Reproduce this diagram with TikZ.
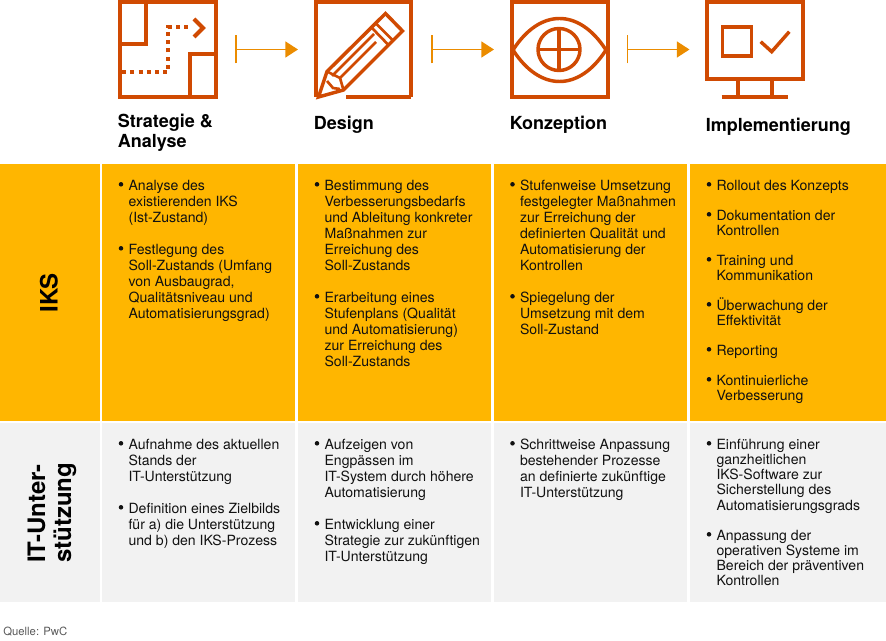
\documentclass[tikz,border=0pt]{standalone}
\usepackage{fontspec}
\setmainfont{TeX Gyre Heros}
\usetikzlibrary{arrows.meta}
\definecolor{pwcyellow}{HTML}{FFB600}
\definecolor{pwcgrey}{HTML}{F2F2F2}
\definecolor{pwcrust}{HTML}{D04A02}
\definecolor{pwcorange}{HTML}{EB8C00}
\definecolor{inkblack}{HTML}{111111}
\tikzset{
  x=0.75pt,y=-0.75pt,
  icon/.style={draw=pwcrust,line width=3pt,miter limit=8},
  iconthin/.style={draw=pwcrust,line width=2.6pt,line join=miter},
  flow/.style={color=pwcorange,line width=1.2pt,{Bar[width=21pt]}-{Triangle[length=9.5pt,width=12pt,fill=pwcorange]}},
  head/.style={font=\fontsize{13.5}{15}\bfseries\selectfont,text=black,anchor=base west,inner sep=0pt,align=left},
  side/.style={font=\bfseries,text=black,inner sep=0pt,rotate=90,align=left},
  body/.style={font=\fontsize{10.55}{12}\selectfont,text=inkblack,anchor=north west,inner sep=0pt,align=left},
  tight/.style={font=\fontsize{10.55}{11.4}\selectfont},
  bul/.style={circle,fill=inkblack,inner sep=0pt,minimum size=3.4pt},
}
\newcommand{\bl}[5][]{%
  \node[bul] (#2b) at (#3-8,#4-0.7) {};
  \node[body,#1] (#2) at (#3-0.7,#4-5.7) {\strut #5};}
\begin{document}
\begin{tikzpicture}
\useasboundingbox (0,0) rectangle (886,641);
% table cells
\fill[pwcyellow] (0,164) rectangle (99.5,421);
\fill[pwcyellow] (102,164) rectangle (295,421);
\fill[pwcyellow] (298,164) rectangle (491,421);
\fill[pwcyellow] (494,164) rectangle (687,421);
\fill[pwcyellow] (690,164) rectangle (886,421);
\fill[pwcgrey] (0,423) rectangle (99.5,602);
\fill[pwcgrey] (102,423) rectangle (295,602);
\fill[pwcgrey] (298,423) rectangle (491,602);
\fill[pwcgrey] (494,423) rectangle (687,602);
\fill[pwcgrey] (690,423) rectangle (886,602);
% icon 1: route
\draw[icon] (119.5,2) rectangle (215.5,97.5);
\draw[icon] (119.5,44.5) -- (146,44.5) -- (146,2);
\draw[icon] (190,97.5) -- (190,54.5) -- (215.5,54.5);
\draw[icon,dash pattern=on 3pt off 3.2pt] (122,72.5) -- (168,72.5) -- (168,27.5) -- (192,27.5);
\draw[icon] (194,19) -- (203,28) -- (194,37);
% icon 2: pencil
\draw[icon] (346,97.5) -- (411,97.5) (411,97.5) -- (411,2) -- (315.5,2) -- (315.5,97.5);
\draw[iconthin] (318.5,97) -- (327,71.5) -- (385.5,13.5) -- (402.5,31) -- (343.5,90) -- cycle;
\draw[iconthin,line width=2pt] (327,71.5) -- (340,78) -- (343.5,90);
\draw[iconthin,line width=2pt] (340,78) -- (376,42);
\draw[iconthin,line width=2pt] (332,76) -- (374,34);
\draw[iconthin,line width=2pt] (372,28) -- (388,44.5);
\draw[iconthin,line width=2pt] (376.5,24) -- (392.5,40);
\draw[iconthin,line width=2pt] (327,81) -- (333,88) -- (340,89);
% icon 3: eye
\draw[icon] (512,2) rectangle (607.5,97.5);
\draw[iconthin] (513,50) .. controls (540,8) and (579,8) .. (606,50) .. controls (579,92) and (540,92) .. (513,50) -- cycle;
\draw[iconthin] (559,49.5) circle (21);
\draw[iconthin] (538,49.5) -- (580,49.5) (559,28.5) -- (559,70.5);
% icon 4: monitor
\draw[icon] (707,2) rectangle (803,79.5);
\draw[icon] (738.3,81) -- (738.3,97) (771.7,81) -- (771.7,97);
\draw[icon] (721.7,97.3) -- (787.7,97.3);
\draw[iconthin,line width=2.8pt] (722.5,27) rectangle (751.5,56);
\draw[iconthin] (760.7,41.7) -- (771.7,51.7) -- (789.3,31.7);
% flow arrows
\coordinate (f1a) at (235,49.5); \coordinate (f1b) at (298,49.5);
\coordinate (f2a) at (431,49.5); \coordinate (f2b) at (494,49.5);
\coordinate (f3a) at (626.7,49.5); \coordinate (f3b) at (689.5,49.5);
\draw[flow] (f1a) -- (f1b);
\draw[flow] (f2a) -- (f2b);
\draw[flow] (f3a) -- (f3b);
% headings
\node[head,font=\fontsize{13.5}{15}\bfseries\selectfont] (h1) at (117.5,148) {Strategie \&\\[0.2pt]Analyse};
\node[head] (h2) at (313.5,130) {Design};
\node[head] (h3) at (509.5,130) {Konzeption};
\node[head] (h4) at (705.5,132) {Implementierung};
% side labels
\node[side,font=\fontsize{18}{22}\bfseries\selectfont] (iks) at (49,293) {IKS};
\node[side,font=\fontsize{18}{19.5}\bfseries\selectfont,anchor=west] (itu) at (52,563) {IT-Unter-\\stützung};
% IKS row
\bl{a1}{129}{185}{Analyse des\\existierenden IKS\\(Ist-Zustand)}
\bl{a2}{129}{249}{Festlegung des\\Soll-Zustands (Umfang\\von Ausbaugrad,\\Qualitätsniveau und\\Automatisierungsgrad)}
\bl{b1}{325}{185}{Bestimmung des\\Verbesserungsbedarfs\\und Ableitung konkreter\\Maßnahmen zur\\Erreichung des\\Soll-Zustands}
\bl{b2}{325}{297}{Erarbeitung eines\\Stufenplans (Qualität\\und Automatisierung)\\zur Erreichung des\\Soll-Zustands}
\bl{c1}{520.5}{185}{Stufenweise Umsetzung\\festgelegter Maßnahmen\\zur Erreichung der\\definierten Qualität und\\Automatisierung der\\Kontrollen}
\bl{c2}{520.5}{297}{Spiegelung der\\Umsetzung mit dem\\Soll-Zustand}
\bl[tight]{d1}{717}{185}{Rollout des Konzepts}
\bl[tight]{d2}{717}{215}{Dokumentation der\\Kontrollen}
\bl[tight]{d3}{717}{260}{Training und\\Kommunikation}
\bl[tight]{d4}{717}{305}{\smash{Ü}berwachung der\\Effektivität}
\bl[tight]{d5}{717}{350}{Reporting}
\bl[tight]{d6}{717}{380}{Kontinuierliche\\Verbesserung}
% IT row
\bl{e1}{129}{444}{Aufnahme des aktuellen\\Stands der\\IT-Unterstützung}
\bl{e2}{129}{508}{Definition eines Zielbilds\\für a) die Unterstützung\\und b) den IKS-Prozess}
\bl{f1}{325}{444}{Aufzeigen von\\Engpässen im\\IT-System durch höhere\\Automatisierung}
\bl{f2}{325}{524}{Entwicklung einer\\Strategie zur zukünftigen\\IT-Unterstützung}
\bl{g1}{520.5}{444}{Schrittweise Anpassung\\bestehender Prozesse\\an definierte zukünftige\\IT-Unterstützung}
\bl[tight]{k1}{717}{444}{Einführung einer\\ganzheitlichen\\IKS-Software zur\\Sicherstellung des\\Automatisierungsgrads}
\bl[tight]{k2}{717}{535}{Anpassung der\\operativen Systeme im\\Bereich der präventiven\\Kontrollen}
% source
\node[anchor=base west,inner sep=0pt,text=black!65,font=\fontsize{8.5}{10}\selectfont] (src) at (3,635) {Quelle: PwC};
\end{tikzpicture}
\end{document}
